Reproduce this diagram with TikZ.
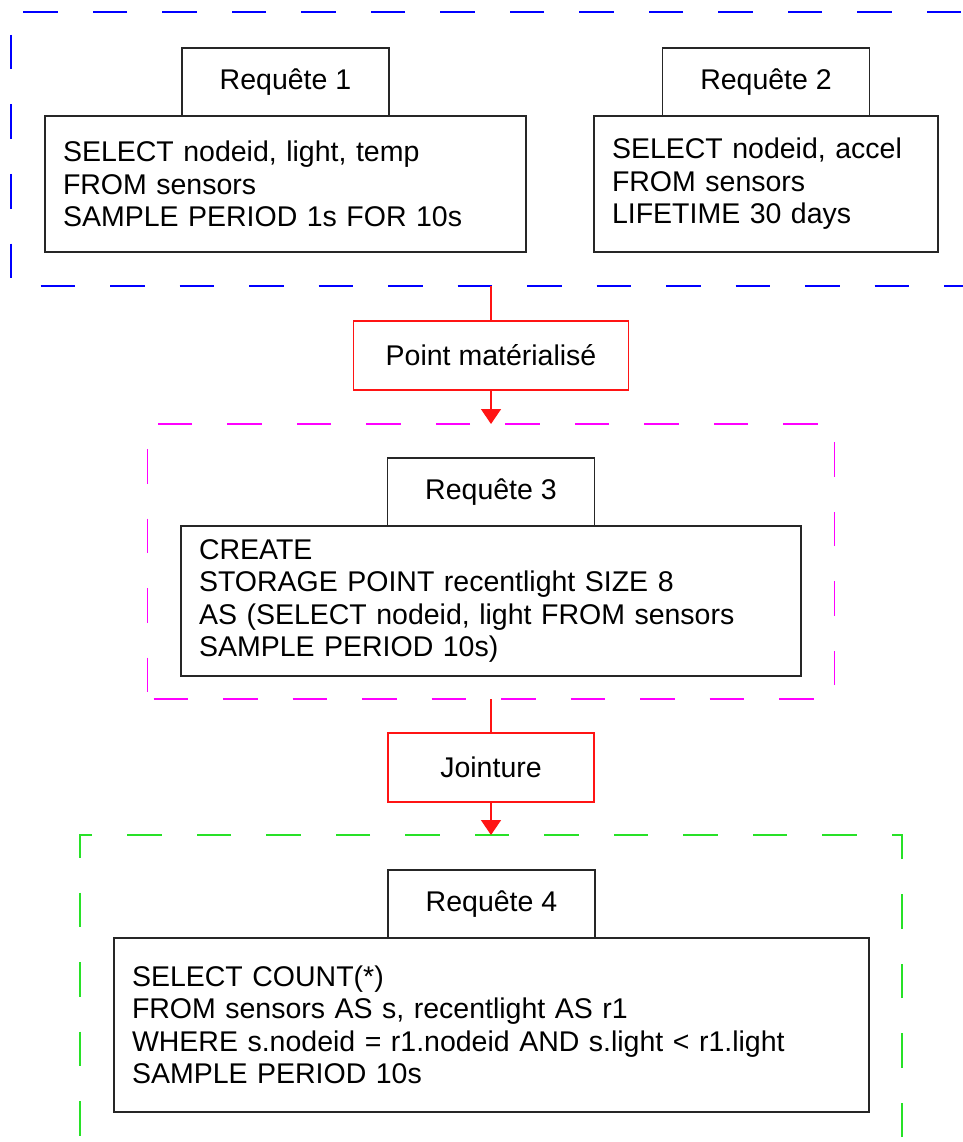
\documentclass[tikz,border=0pt]{standalone}
\usepackage{fontspec}
\setmainfont{Liberation Sans}
\usetikzlibrary{arrows.meta,positioning}
\definecolor{grpblue}{RGB}{0,0,255}
\definecolor{grpmagenta}{RGB}{255,0,255}
\definecolor{grpgreen}{RGB}{40,225,40}
\definecolor{linkred}{RGB}{255,20,20}

\begin{document}
\begin{tikzpicture}[x=1pt,y=-1pt,
font=\fontsize{28.5}{32.5}\selectfont,
qbox/.style={draw=black!85,line width=1.6pt,inner xsep=18pt,inner ysep=0pt,
outer sep=0pt,align=left},
qtitle/.style={draw=black!85,line width=1.6pt,outer sep=0pt,
minimum width=207pt,minimum height=68pt},
opbox/.style={draw=linkred,line width=1.5pt,outer sep=0pt,minimum height=69pt},
grp/.style={line width=1.2pt,dash pattern=on 34.5pt off 35pt,outer sep=0pt},
arr/.style={linkred,line width=1.5pt},
arrhead/.style={arr,-{Triangle[width=20pt,length=15pt]}}
]
\useasboundingbox (0,0) rectangle (962,1142);
% groupes de requetes
\node[grp,draw=grpblue,dash phase=40pt,minimum width=978.25pt,minimum height=274pt] (g1) at (500.125,149) {};
\node[qbox,text width=445pt,minimum height=136pt] (req1) at (285.5,184)
{SELECT nodeid, light, temp\\FROM sensors\\SAMPLE PERIOD 1s FOR 10s};
\node[qtitle,above=0pt of req1] (t1) {Requête 1};
\node[qbox,text width=308pt,minimum height=136pt,right=68pt of req1] (req2)
{SELECT nodeid, accel\\FROM sensors\\LIFETIME 30 days};
\node[qtitle,above=0pt of req2] (t2) {Requête 2};
% point materialise
\node[opbox,minimum width=275pt] (point) at (491,355.5) {Point matérialisé};
\node[grp,draw=grpmagenta,dash phase=63.5pt,minimum width=687pt,minimum height=275pt,
below=34pt of point] (g3) {};
\node[qbox,text width=584pt,minimum height=150pt] (req3) at (491,601)
{CREATE\\STORAGE POINT recentlight SIZE 8\\AS (SELECT nodeid, light FROM sensors\\SAMPLE PERIOD 10s)};
\node[qtitle,above=0pt of req3] (t3) {Requête 3};
% jointure
\node[opbox,minimum width=206pt,below=34pt of g3] (joint) {Jointure};
\node[grp,draw=grpgreen,dash phase=68.5pt,minimum width=822pt,minimum height=315pt,
below=33pt of joint] (g4) {};
\node[qbox,text width=719pt,minimum height=174pt] (req4) at (491.5,1025)
{SELECT COUNT(*)\\FROM sensors AS s, recentlight AS r1\\WHERE s.nodeid = r1.nodeid AND s.light < r1.light\\SAMPLE PERIOD 10s};
\node[qtitle,above=0pt of req4] (t4) {Requête 4};
\draw[arr] (point |- g1.south) -- (point);
\draw[arrhead] (point) -- (g3);
\draw[arr] (g3) -- (joint);
\draw[arrhead] (joint) -- (g4);
\end{tikzpicture}
\end{document}
